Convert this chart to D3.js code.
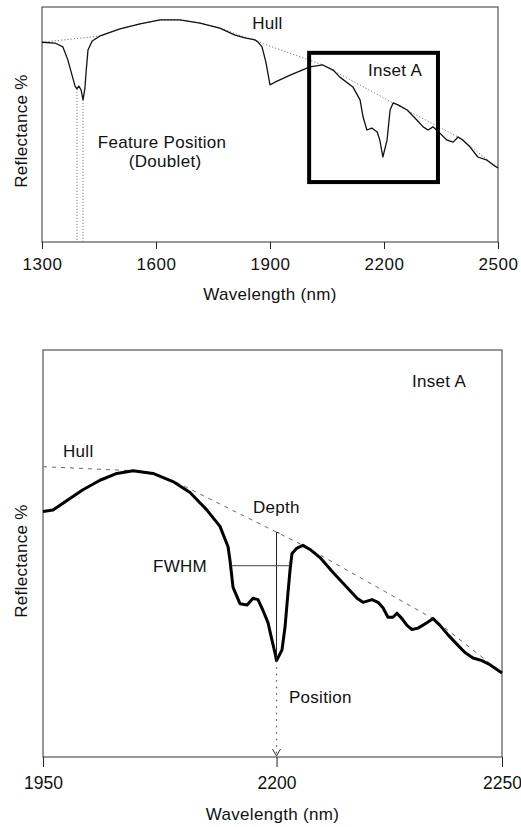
<!DOCTYPE html>
<html>
<head>
<meta charset="utf-8">
<script src="https://cdn.jsdelivr.net/npm/d3@7"></script>
<style>
  html, body { margin: 0; padding: 0; background: #fff; }
  svg text { font-family: "Liberation Sans", Arial, sans-serif; fill: #111; }
</style>
</head>
<body>
<svg id="chart" width="521" height="827"></svg>
<script>
// ---- Full spectrum (top panel) ----
const fullWavelength = [1300, 1334, 1355, 1368, 1379, 1387, 1392, 1397, 1403, 1408, 1413, 1416, 1421, 1432, 1453, 1505, 1558, 1611, 1663, 1716, 1768, 1808, 1834, 1861, 1868, 1879, 1889, 1900, 1913, 1953, 2005, 2039, 2066, 2084, 2118, 2137, 2145, 2155, 2168, 2182, 2189, 2197, 2208, 2216, 2224, 2237, 2261, 2287, 2303, 2316, 2329, 2347, 2366, 2382, 2395, 2408, 2426, 2447, 2471, 2487, 2500];
const fullReflectance = [51.0, 50.8, 49.8, 46.5, 42.6, 39.8, 39.1, 39.8, 38.8, 36.3, 39.3, 43.4, 49.0, 51.3, 52.6, 54.4, 55.7, 56.7, 56.7, 55.9, 54.6, 52.8, 52.1, 51.6, 51.1, 49.8, 46.0, 40.1, 40.8, 42.6, 44.7, 45.2, 43.9, 42.1, 39.6, 36.3, 31.9, 28.6, 29.1, 28.1, 26.0, 21.7, 26.0, 33.7, 35.5, 35.0, 33.7, 31.1, 29.4, 28.6, 29.4, 27.8, 26.0, 25.5, 26.8, 26.0, 24.3, 21.7, 20.9, 19.7, 18.9];
const fullHullWavelength = [1300, 1453, 1505, 1558, 1611, 1663, 1716, 1768, 2039, 2224, 2395, 2500];
const fullHullReflectance = [51.0, 52.6, 54.4, 55.7, 56.7, 56.7, 55.9, 54.6, 45.2, 35.5, 26.8, 18.9];
const doubletWavelength = [1392, 1408];
const doubletReflectance = [39.1, 36.3];
const insetRange = { w0: 2003, w1: 2342, r0: 15.3, r1: 48.3 };
const fullTicks = [1300, 1600, 1900, 2200, 2500];

// ---- Inset A (bottom panel) ----
const insetWavelength = [2055, 2061.2, 2069.9, 2079.8, 2090.4, 2100.9, 2110.9, 2123.3, 2135.7, 2146.3, 2156.8, 2164.9, 2169.9, 2171.1, 2173.0, 2177.3, 2181.7, 2185.4, 2188.5, 2191.6, 2194.7, 2197.2, 2199.0, 2200.0, 2203.4, 2205.3, 2207.1, 2208.4, 2209.6, 2212.7, 2216.4, 2220.8, 2227.0, 2235.1, 2243.8, 2250.0, 2253.7, 2259.3, 2263.0, 2266.1, 2269.2, 2272.3, 2274.8, 2277.9, 2281.0, 2284.1, 2287.8, 2293.4, 2297.2, 2301.5, 2306.5, 2312.1, 2317.0, 2322.0, 2327.6, 2332.5, 2340.0];
const insetReflectance = [38.1, 38.2, 38.9, 39.7, 40.4, 40.9, 41.1, 40.9, 40.3, 39.5, 38.2, 37.0, 35.5, 34.5, 32.5, 31.3, 31.2, 31.7, 31.6, 30.8, 29.9, 28.6, 27.7, 27.1, 27.9, 29.6, 32.1, 33.8, 35.0, 35.4, 35.6, 35.3, 34.7, 33.6, 32.5, 31.7, 31.4, 31.6, 31.4, 31.0, 30.3, 30.3, 30.6, 30.2, 29.7, 29.4, 29.5, 29.9, 30.2, 29.7, 29.0, 28.3, 27.7, 27.3, 27.1, 26.8, 26.2];
const insetHullWavelength = [2055, 2110.9, 2123.3, 2137, 2216.4, 2297.2, 2340];
const insetHullReflectance = [41.4, 41.1, 40.9, 40.3, 35.6, 30.2, 26.2];
const featurePosition = 2200;
const featureMinimum = 27.1;
const fwhmLevel = 34.1;
const fwhmFrom = 2171.8;
const fwhmTo = 2208.4;
const insetTicks = [2055, 2200, 2340];
const insetTickLabels = ["1950", "2200", "2250"];

const svg = d3.select("#chart");
const FONT = 17;

// Scales
const xTop = d3.scaleLinear().domain([1300, 2500]).range([42, 498]);
const yTop = d3.scaleLinear().domain([0, 60]).range([242, 7]);
const xBot = d3.scaleLinear().domain([2055, 2340]).range([43, 502]);
const yBot = d3.scaleLinear().domain([20, 50]).range([757, 350]);

function frame(x, y, ticks, labels, opts) {
  const [x0, x1] = x.range();
  const [y0, y1] = y.range(); // y0 bottom, y1 top
  svg.append("rect")
    .attr("x", x0).attr("y", y1).attr("width", x1 - x0).attr("height", y0 - y1)
    .attr("fill", "none").attr("stroke", "#333").attr("stroke-width", 1);
  const ax = d3.axisBottom(x).tickValues(ticks).tickSize(opts.tick).tickSizeOuter(0)
    .tickPadding(opts.pad).tickFormat((d, i) => labels[i]);
  const g = svg.append("g").attr("transform", `translate(0,${y0})`).call(ax);
  g.select(".domain").remove();
  g.selectAll(".tick line").attr("stroke", "#222");
  g.selectAll(".tick text").attr("font-size", opts.tickFont).attr("fill", "#111")
    .style("font-family", "'Liberation Sans', Arial, sans-serif")
    .attr("letter-spacing", opts.spacing);
  svg.append("text").attr("x", (x0 + x1) / 2).attr("y", opts.titleY)
    .attr("text-anchor", "middle").attr("font-size", FONT).attr("letter-spacing", 0.3)
    .text("Wavelength (nm)");
  svg.append("text")
    .attr("transform", `translate(${opts.ylabX},${opts.ylabY}) rotate(-90)`)
    .attr("text-anchor", "middle").attr("font-size", FONT).attr("letter-spacing", 0.3)
    .text("Reflectance %");
}

// ---------- Top panel ----------
frame(xTop, yTop, fullTicks, fullTicks.map(String),
  { tick: 7, pad: 9, tickFont: 17, spacing: 0.6, titleY: 300, ylabX: 27, ylabY: 131 });

const lineTop = d3.line().x(d => xTop(d[0])).y(d => yTop(d[1]));
svg.append("path")
  .datum(d3.zip(fullHullWavelength, fullHullReflectance))
  .attr("d", lineTop).attr("fill", "none")
  .attr("stroke", "#777").attr("stroke-width", 1).attr("stroke-dasharray", "1.2,2");
svg.append("path")
  .datum(d3.zip(fullWavelength, fullReflectance))
  .attr("d", lineTop).attr("fill", "none")
  .attr("stroke", "#111").attr("stroke-width", 1.3).attr("stroke-linejoin", "round");

doubletWavelength.forEach((w, i) => {
  svg.append("line")
    .attr("x1", xTop(w)).attr("x2", xTop(w))
    .attr("y1", yTop(doubletReflectance[i])).attr("y2", yTop(0))
    .attr("stroke", "#666").attr("stroke-width", 1).attr("stroke-dasharray", "1,2");
});

svg.append("rect")
  .attr("x", xTop(insetRange.w0)).attr("y", yTop(insetRange.r1))
  .attr("width", xTop(insetRange.w1) - xTop(insetRange.w0))
  .attr("height", yTop(insetRange.r0) - yTop(insetRange.r1))
  .attr("fill", "none").attr("stroke", "#000").attr("stroke-width", 4);

const topLabels = [
  { text: "Hull", w: 1853, r: 54.4, anchor: "start" },
  { text: "Inset A", w: 2158, r: 42.4, anchor: "start" },
  { text: "Feature Position", w: 1616, r: 24.0, anchor: "middle" },
  { text: "(Doublet)", w: 1624, r: 19.1, anchor: "middle" }
];
svg.selectAll(".tlab").data(topLabels).enter().append("text")
  .attr("x", d => xTop(d.w)).attr("y", d => yTop(d.r))
  .attr("text-anchor", d => d.anchor).attr("font-size", FONT).attr("letter-spacing", 0.3)
  .text(d => d.text);

// ---------- Bottom panel ----------
frame(xBot, yBot, insetTicks, insetTickLabels,
  { tick: 10, pad: 10, tickFont: 17.5, spacing: 0, titleY: 820, ylabX: 27, ylabY: 561 });

const lineBot = d3.line().x(d => xBot(d[0])).y(d => yBot(d[1]));
svg.append("path")
  .datum(d3.zip(insetHullWavelength, insetHullReflectance))
  .attr("d", lineBot).attr("fill", "none")
  .attr("stroke", "#666").attr("stroke-width", 1).attr("stroke-dasharray", "4,5");

// hull value at the feature position
const hullAt = d3.scaleLinear().domain(insetHullWavelength).range(insetHullReflectance);
const depthTop = hullAt(featurePosition);

svg.append("path")
  .datum(d3.zip(insetWavelength, insetReflectance))
  .attr("d", lineBot).attr("fill", "none")
  .attr("stroke", "#000").attr("stroke-width", 3).attr("stroke-linejoin", "round");

// depth line
svg.append("line")
  .attr("x1", xBot(featurePosition)).attr("x2", xBot(featurePosition))
  .attr("y1", yBot(depthTop)).attr("y2", yBot(featureMinimum))
  .attr("stroke", "#222").attr("stroke-width", 1);
svg.append("line")
  .attr("x1", xBot(featurePosition)).attr("x2", xBot(featurePosition) + 3)
  .attr("y1", yBot(depthTop)).attr("y2", yBot(depthTop) + 1)
  .attr("stroke", "#222").attr("stroke-width", 1);

// FWHM line
svg.append("line")
  .attr("x1", xBot(fwhmFrom)).attr("x2", xBot(fwhmTo))
  .attr("y1", yBot(fwhmLevel)).attr("y2", yBot(fwhmLevel))
  .attr("stroke", "#444").attr("stroke-width", 1);

// position arrow
svg.append("line")
  .attr("x1", xBot(featurePosition)).attr("x2", xBot(featurePosition))
  .attr("y1", yBot(featureMinimum)).attr("y2", yBot(20) - 1)
  .attr("stroke", "#555").attr("stroke-width", 1.2).attr("stroke-dasharray", "1.5,5");
const ax0 = xBot(featurePosition), ay0 = yBot(20) - 1;
svg.append("path")
  .attr("d", `M${ax0 - 4},${ay0 - 7} L${ax0},${ay0} L${ax0 + 4},${ay0 - 7}`)
  .attr("fill", "none").attr("stroke", "#333").attr("stroke-width", 1);

const botLabels = [
  { text: "Hull", w: 2067.4, r: 42.1 },
  { text: "Inset A", w: 2284.1, r: 47.3 },
  { text: "Depth", w: 2185.4, r: 38.0 },
  { text: "FWHM", w: 2123.3, r: 33.6 },
  { text: "Position", w: 2207.7, r: 24.0 }
];
svg.selectAll(".blab").data(botLabels).enter().append("text")
  .attr("x", d => xBot(d.w)).attr("y", d => yBot(d.r))
  .attr("font-size", FONT).attr("letter-spacing", 0.3)
  .text(d => d.text);
</script>
</body>
</html>
